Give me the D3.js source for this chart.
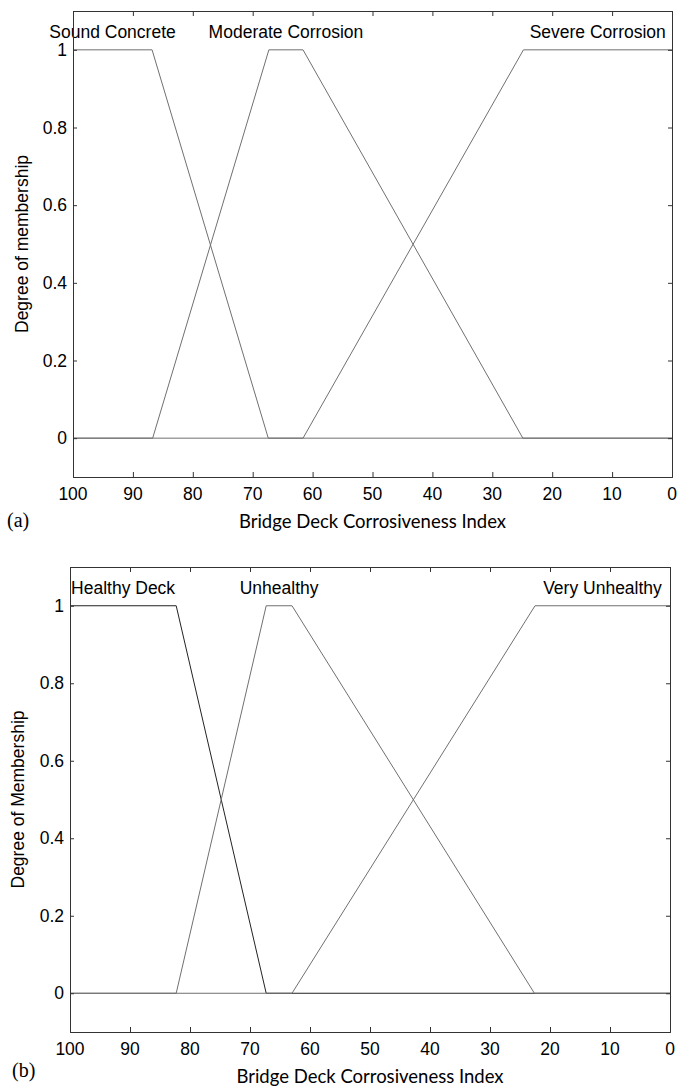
<!DOCTYPE html>
<html>
<head>
<meta charset="utf-8">
<script src="https://cdn.jsdelivr.net/npm/d3@7"></script>
<style>
  body { margin: 0; background: #fff; }
  svg text { fill: #000; }
</style>
</head>
<body>
<svg id="chart" width="689" height="1089"></svg>
<script>
// tick values shared by both panels
var xTicks = [100, 90, 80, 70, 60, 50, 40, 30, 20, 10, 0];
var yTicks = [0, 0.2, 0.4, 0.6, 0.8, 1];

// panel (a) membership functions, [index, degree] vertices
var namesA = ["Sound Concrete", "Moderate Corrosion", "Severe Corrosion"];
var soundConcrete = [[100, 1], [86.8, 1], [67.4, 0], [0, 0]];
var moderateCorrosion = [[100, 0], [86.7, 0], [67.3, 1], [61.6, 1], [24.9, 0], [0, 0]];
var severeCorrosion = [[100, 0], [61.6, 0], [24.8, 1], [0, 1]];

// panel (b)
var namesB = ["Healthy Deck", "Unhealthy", "Very Unhealthy"];
var healthyDeck = [[100, 1], [82.3, 1], [67.3, 0], [0, 0]];
var unhealthy = [[100, 0], [82.3, 0], [67.3, 1], [63, 1], [22.6, 0], [0, 0]];
var veryUnhealthy = [[100, 0], [63, 0], [22.5, 1], [0, 1]];

var svg = d3.select("#chart");

function drawPanel(p) {
  var x = d3.scaleLinear().domain([100, 0]).range([p.left, p.right]);
  var y = d3.scaleLinear().domain([-0.1, 1.1]).range([p.bottom, p.top]);
  var g = svg.append("g");

  var line = d3.line().x(function(d){ return x(d[0]); }).y(function(d){ return y(d[1]); });

  p.curves.forEach(function(c, i){
    g.append("path")
      .attr("d", line(c))
      .attr("fill", "none")
      .attr("stroke", p.colors[i])
      .attr("stroke-width", 1);
  });

  // labels centred over each plateau
  p.curves.forEach(function(c, i){
    var top = c.filter(function(d){ return d[1] === 1; });
    var cx = (x(top[0][0]) + x(top[top.length - 1][0])) / 2;
    g.append("text")
      .attr("x", cx)
      .attr("y", y(1) - 12)
      .attr("text-anchor", "middle")
      .style("font-family", "Liberation Sans, Arial, sans-serif")
      .style("font-size", "17.5px")
      .text(p.names[i]);
  });

  // box with inward ticks on all sides (matlab style)
  g.append("g").attr("transform", "translate(0," + p.bottom + ")")
    .call(d3.axisTop(x).tickValues(xTicks).tickSize(5).tickFormat(""));
  g.append("g").attr("transform", "translate(0," + p.top + ")")
    .call(d3.axisBottom(x).tickValues(xTicks).tickSize(5).tickFormat(""));
  g.append("g").attr("transform", "translate(" + p.left + ",0)")
    .call(d3.axisRight(y).tickValues(yTicks).tickSize(4).tickFormat(""));
  g.append("g").attr("transform", "translate(" + p.right + ",0)")
    .call(d3.axisLeft(y).tickValues(yTicks).tickSize(4).tickFormat(""));
  g.selectAll(".domain").attr("stroke", "#333");
  g.selectAll(".tick line").attr("stroke", "#333");

  // tick labels
  g.selectAll(".xl").data(xTicks).enter().append("text")
    .attr("x", function(d){ return x(d); })
    .attr("y", p.bottom + 23)
    .attr("text-anchor", "middle")
    .style("font-family", "Liberation Sans, Arial, sans-serif")
    .style("font-size", "17.5px")
    .text(function(d){ return d; });
  g.selectAll(".yl").data(yTicks).enter().append("text")
    .attr("x", p.left - 6)
    .attr("y", function(d){ return y(d) + 6; })
    .attr("text-anchor", "end")
    .style("font-family", "Liberation Sans, Arial, sans-serif")
    .style("font-size", "17.5px")
    .text(function(d){ return d; });

  // axis titles
  g.append("text")
    .attr("x", (p.left + p.right) / 2)
    .attr("y", p.bottom + 51)
    .attr("text-anchor", "middle")
    .style("font-family", "Lato, sans-serif")
    .style("font-size", "18.5px")
    .text("Bridge Deck Corrosiveness Index");
  g.append("text")
    .attr("transform", "translate(" + p.ylabX + "," + (p.top + p.bottom) / 2 + ") rotate(-90)")
    .attr("text-anchor", "middle")
    .style("font-family", "Liberation Sans, Arial, sans-serif")
    .style("font-size", "17.5px")
    .text(p.ylabel);

  g.append("text")
    .attr("x", p.tagX)
    .attr("y", p.tagY)
    .style("font-family", "Liberation Serif, Times New Roman, serif")
    .style("font-size", "20px")
    .text(p.tag);
}

drawPanel({
  left: 73, right: 672, top: 11, bottom: 477,
  curves: [soundConcrete, moderateCorrosion, severeCorrosion],
  names: namesA,
  colors: ["#707070", "#707070", "#707070"],
  ylabel: "Degree of membership", ylabX: 28,
  tag: "(a)", tagX: 7, tagY: 527
});

drawPanel({
  left: 70, right: 670, top: 567, bottom: 1032,
  curves: [healthyDeck, unhealthy, veryUnhealthy],
  names: namesB,
  colors: ["#222", "#707070", "#707070"],
  ylabel: "Degree of Membership", ylabX: 24,
  tag: "(b)", tagX: 12, tagY: 1077
});
</script>
</body>
</html>
